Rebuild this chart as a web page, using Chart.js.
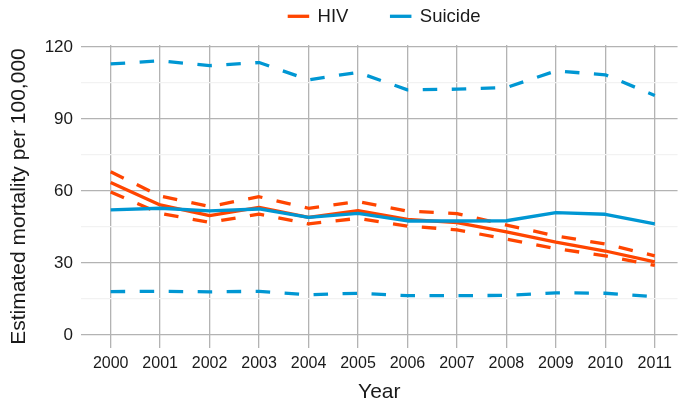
<!DOCTYPE html>
<html>
<head>
<meta charset="utf-8">
<script src="https://cdn.jsdelivr.net/npm/chart.js@4"></script>
<style>
  html, body { margin: 0; padding: 0; background: #ffffff; }
  #wrap { width: 678px; height: 403px; }
</style>
</head>
<body>
<div id="wrap"><canvas id="c" width="678" height="403"></canvas></div>
<script>
// Estimated mortality per 100,000, 2000-2011, with lower / upper bounds
const years = [2000, 2001, 2002, 2003, 2004, 2005, 2006, 2007, 2008, 2009, 2010, 2011];

const hivMean  = [63.5, 54.2, 49.7, 53.2, 49.0, 51.8, 48.2, 46.8, 43.0, 38.7, 35.0, 30.5];
const hivUpper = [68.0, 57.9, 53.5, 57.6, 52.8, 55.6, 51.6, 50.6, 45.8, 41.3, 37.9, 33.0];
const hivLower = [59.6, 50.7, 46.9, 50.4, 46.3, 48.6, 45.4, 43.8, 40.0, 36.0, 33.0, 29.0];

const suicideMean  = [52.1, 52.8, 51.7, 52.5, 49.0, 50.7, 47.5, 47.5, 47.6, 51.0, 50.3, 46.3];
const suicideUpper = [112.9, 114.2, 112.2, 113.5, 106.3, 109.4, 102.1, 102.4, 103.1, 110.0, 108.4, 99.8];
const suicideLower = [18.1, 18.2, 18.0, 18.2, 16.8, 17.4, 16.4, 16.4, 16.5, 17.6, 17.4, 16.0];

const yMajorTicks = [0, 30, 60, 90, 120];
const yMinorTicks = [15, 45, 75, 105];

const HIV_COLOR = '#FF4500';
const SUICIDE_COLOR = '#0097D3';
const TEXT_COLOR = '#1a1a1a';
const FONT = '"Liberation Sans", Arial, Helvetica, sans-serif';

function line(label, values, color, dashed) {
  return {
    label,
    data: years.map((x, i) => ({ x, y: values[i] })),
    borderColor: color,
    backgroundColor: color,
    borderWidth: 3.3,
    borderDash: dashed ? [14.5, 14.5] : [],
    borderCapStyle: 'butt',
    borderJoinStyle: 'round',
    pointRadius: 0,
    pointHoverRadius: 0,
    tension: 0,
    fill: false
  };
}

const datasets = [
  line('Suicide', suicideMean, SUICIDE_COLOR, false),
  line('Suicide upper', suicideUpper, SUICIDE_COLOR, true),
  line('Suicide lower', suicideLower, SUICIDE_COLOR, true),
  line('HIV', hivMean, HIV_COLOR, false),
  line('HIV upper', hivUpper, HIV_COLOR, true),
  line('HIV lower', hivLower, HIV_COLOR, true)
];

// Legend across the top: short colour bar followed by the series name
const topLegend = {
  id: 'topLegend',
  afterDraw(chart) {
    const ctx = chart.ctx;
    const items = ['HIV', 'Suicide'].map(name => chart.data.datasets.find(d => d.label === name));
    const fontSize = 18.5;
    const swatchW = 21.5, swatchH = 3.3, gap = 8.4, spacing = 41.5;
    const y = 16.3;
    ctx.save();
    ctx.font = fontSize + 'px ' + FONT;
    ctx.textBaseline = 'middle';
    ctx.textAlign = 'left';
    let x = chart.chartArea.left + 206.7;
    items.forEach(ds => {
      ctx.fillStyle = ds.borderColor;
      ctx.fillRect(x, y - swatchH / 2, swatchW, swatchH);
      x += swatchW + gap;
      ctx.fillStyle = TEXT_COLOR;
      ctx.fillText(ds.label, x, y + 1);
      x += ctx.measureText(ds.label).width + spacing;
    });
    ctx.restore();
  }
};

new Chart(document.getElementById('c'), {
  type: 'line',
  data: { datasets },
  options: {
    responsive: false,
    animation: false,
    devicePixelRatio: 1,
    layout: { padding: { top: 45, right: 0, bottom: 0, left: 0 } },
    plugins: {
      legend: { display: false },
      tooltip: { enabled: false }
    },
    scales: {
      x: {
        type: 'linear',
        min: 1999.4,
        max: 2011.46,
        afterBuildTicks: scale => { scale.ticks = years.map(v => ({ value: v })); },
        afterFit: scale => { scale.height = 55; },
        grid: { color: '#b3b3b3', lineWidth: 1.3, drawTicks: false },
        border: { display: false },
        ticks: {
          autoSkip: false,
          maxRotation: 0,
          padding: 6,
          color: TEXT_COLOR,
          font: { family: FONT, size: 16 },
          callback: v => String(v)
        },
        title: {
          display: true,
          text: 'Year',
          color: TEXT_COLOR,
          font: { family: FONT, size: 21, lineHeight: 1 },
          padding: { top: 0, bottom: 0 }
        }
      },
      y: {
        type: 'linear',
        min: -5.4,
        max: 120.8,
        afterBuildTicks: scale => {
          scale.ticks = yMajorTicks.concat(yMinorTicks).sort((a, b) => a - b).map(v => ({ value: v }));
        },
        afterFit: scale => { scale.width = 81; },
        grid: {
          color: c => yMajorTicks.includes(c.tick.value) ? '#b3b3b3' : '#f2f2f2',
          lineWidth: 1.3,
          drawTicks: false
        },
        border: { display: false },
        ticks: {
          autoSkip: false,
          padding: 8,
          color: TEXT_COLOR,
          font: { family: FONT, size: 17 },
          callback: v => yMajorTicks.includes(v) ? String(v) : ''
        },
        title: {
          display: true,
          text: 'Estimated mortality per 100,000',
          color: TEXT_COLOR,
          font: { family: FONT, size: 21 },
          padding: { top: 7, bottom: 0 }
        }
      }
    }
  },
  plugins: [topLegend]
});
</script>
</body>
</html>
